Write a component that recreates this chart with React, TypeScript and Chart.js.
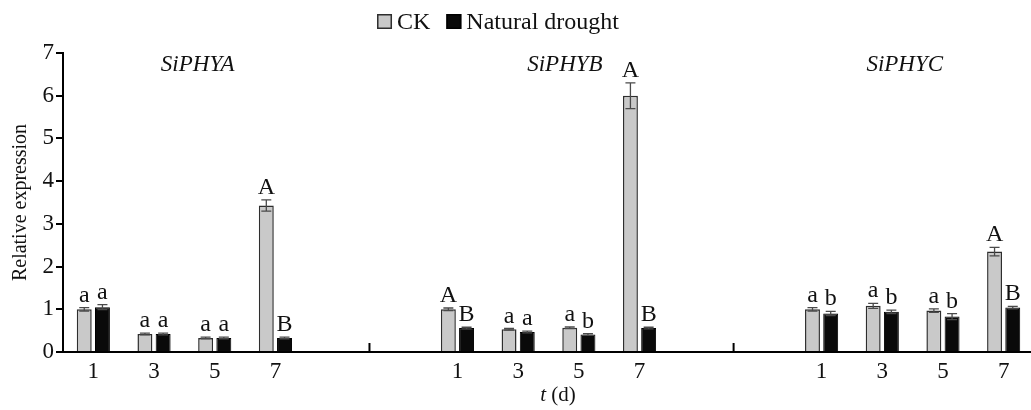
import { useEffect, useRef } from 'react';
import { Chart, registerables } from 'chart.js';
Chart.register(...registerables);

// ---- data ----
const days = ['1', '3', '5', '7'];
const genes = ['SiPHYA', 'SiPHYB', 'SiPHYC'];
const seriesNames = ['CK', 'Natural drought'];

const ckPHYA = [1.0, 0.42, 0.33, 3.43];
const ckPHYB = [1.0, 0.53, 0.57, 6.0];
const ckPHYC = [1.0, 1.08, 0.97, 2.35];
const drPHYA = [1.05, 0.42, 0.33, 0.33];
const drPHYB = [0.56, 0.47, 0.41, 0.56];
const drPHYC = [0.9, 0.94, 0.83, 1.04];

const ckErrA = [0.04, 0.02, 0.02, 0.13];
const ckErrB = [0.03, 0.02, 0.02, 0.3];
const ckErrC = [0.04, 0.06, 0.04, 0.1];
const drErrA = [0.06, 0.02, 0.02, 0.02];
const drErrB = [0.02, 0.02, 0.02, 0.02];
const drErrC = [0.05, 0.04, 0.07, 0.03];

const ckLetA = ['a', 'a', 'a', 'A'];
const ckLetB = ['A', 'a', 'a', 'A'];
const ckLetC = ['a', 'a', 'a', 'A'];
const drLetA = ['a', 'a', 'a', 'B'];
const drLetB = ['B', 'a', 'b', 'B'];
const drLetC = ['b', 'b', 'b', 'B'];

const yTicks = [0, 1, 2, 3, 4, 5, 6, 7];

// ---- build category slots (3 groups of 4, 2 empty slots between) ----
const GAP = 2;
function spread<T>(groups: T[][], empty: T | null): (T | null)[] {
  const out: (T | null)[] = [];
  groups.forEach((g, gi) => {
    g.forEach((v) => out.push(v));
    if (gi < groups.length - 1) for (let k = 0; k < GAP; k++) out.push(empty);
  });
  return out;
}
const labels = spread([days, days, days], '') as string[];
const ckData = spread([ckPHYA, ckPHYB, ckPHYC], null);
const drData = spread([drPHYA, drPHYB, drPHYC], null);
const errs = [spread([ckErrA, ckErrB, ckErrC], null), spread([drErrA, drErrB, drErrC], null)];
const letters = [spread([ckLetA, ckLetB, ckLetC], null), spread([drLetA, drLetB, drLetC], null)];
// gene label positions (fractional slot index) and separator positions
const genePos = [1.72, 7.77, 13.37];
const sepPos = [4.55, 10.55];

const SERIF = '"Liberation Serif", "Times New Roman", serif';
const INK = '#111';

const annotate = {
  id: 'annotate',
  afterDatasetsDraw(chart: any) {
    const { ctx, scales } = chart;
    const xs = scales.x;
    const ys = scales.y;
    const step = xs.getPixelForValue(1) - xs.getPixelForValue(0);
    ctx.save();
    // error bars + letters
    chart.data.datasets.forEach((ds: any, di: number) => {
      const meta = chart.getDatasetMeta(di);
      meta.data.forEach((bar: any, i: number) => {
        const v = ds.data[i];
        if (v == null) return;
        const e = errs[di][i] as number;
        const cx = bar.x;
        const top = ys.getPixelForValue(v + e);
        const bot = ys.getPixelForValue(v - e);
        ctx.strokeStyle = '#4a4a4a';
        ctx.lineWidth = 1.3;
        ctx.beginPath();
        ctx.moveTo(cx, top);
        ctx.lineTo(cx, bot);
        ctx.moveTo(cx - 5, top);
        ctx.lineTo(cx + 5, top);
        ctx.moveTo(cx - 5, bot);
        ctx.lineTo(cx + 5, bot);
        ctx.stroke();
        const L = letters[di][i];
        if (L) {
          ctx.fillStyle = INK;
          ctx.font = `24px ${SERIF}`;
          ctx.textAlign = 'center';
          ctx.textBaseline = 'alphabetic';
          ctx.fillText(L, cx, top - 6);
        }
      });
    });
    // gene names
    ctx.fillStyle = INK;
    ctx.font = `italic 23px ${SERIF}`;
    ctx.textAlign = 'center';
    ctx.textBaseline = 'alphabetic';
    genes.forEach((g, gi) => {
      const px = xs.getPixelForValue(0) + genePos[gi] * step;
      ctx.fillText(g, px, chart.chartArea.top + 18);
    });
    // separator ticks
    ctx.strokeStyle = '#000';
    ctx.lineWidth = 2;
    sepPos.forEach((s) => {
      const px = xs.getPixelForValue(0) + s * step;
      ctx.beginPath();
      ctx.moveTo(px, chart.chartArea.bottom);
      ctx.lineTo(px, chart.chartArea.bottom - 9);
      ctx.stroke();
    });
    ctx.restore();
  },
  afterDraw(chart: any) {
    const { ctx, chartArea } = chart;
    ctx.save();
    // x axis title: italic t + " (d)"
    ctx.fillStyle = INK;
    ctx.textBaseline = 'alphabetic';
    ctx.textAlign = 'left';
    ctx.font = `italic 21px ${SERIF}`;
    const wT = ctx.measureText('t').width;
    ctx.font = `21px ${SERIF}`;
    const wR = ctx.measureText(' (d)').width;
    const cx = 558;
    const x0 = cx - (wT + wR) / 2;
    const by = chartArea.bottom + 49;
    ctx.font = `italic 21px ${SERIF}`;
    ctx.fillText('t', x0, by);
    ctx.font = `21px ${SERIF}`;
    ctx.fillText(' (d)', x0 + wT, by);
    // legend
    ctx.font = `24px ${SERIF}`;
    const box = 15;
    const items = chart.data.datasets.map((ds: any) => ({
      text: ds.label,
      fill: ds.backgroundColor,
      stroke: ds.borderColor,
    }));
    const gapBoxText = 5;
    const gapItems = 16;
    let total = 0;
    items.forEach((it: any, k: number) => {
      total += box + gapBoxText + ctx.measureText(it.text).width + (k < items.length - 1 ? gapItems : 0);
    });
    let lx = 498 - total / 2;
    const ly = 14;
    items.forEach((it: any) => {
      ctx.fillStyle = it.fill;
      ctx.fillRect(lx, ly, box, box);
      ctx.strokeStyle = it.stroke;
      ctx.lineWidth = 1.5;
      ctx.strokeRect(lx + 0.75, ly + 0.75, box - 1.5, box - 1.5);
      lx += box + gapBoxText;
      ctx.fillStyle = INK;
      ctx.fillText(it.text, lx, ly + box);
      lx += ctx.measureText(it.text).width + gapItems;
    });
    ctx.restore();
  },
};

export default function App() {
  const ref = useRef<HTMLCanvasElement | null>(null);
  useEffect(() => {
    if (!ref.current) return;
    const chart = new Chart(ref.current, {
      type: 'bar',
      data: {
        labels,
        datasets: [
          {
            label: seriesNames[0],
            data: ckData as any,
            backgroundColor: '#c9c9c9',
            borderColor: '#2e2e2e',
            borderWidth: 1.5,
            categoryPercentage: 0.6,
            barPercentage: 0.82,
          },
          {
            label: seriesNames[1],
            data: drData as any,
            backgroundColor: '#0a0a0a',
            borderColor: '#000',
            borderWidth: 1,
            categoryPercentage: 0.6,
            barPercentage: 0.82,
          },
        ],
      },
      options: {
        responsive: false,
        animation: false,
        devicePixelRatio: 1,
        layout: { padding: { top: 53, right: 2, left: 0, bottom: 0 } },
        plugins: {
          legend: { display: false },
          tooltip: { enabled: false },
        },
        scales: {
          x: {
            type: 'category',
            grid: { display: true, drawOnChartArea: false, drawTicks: false },
            border: { display: true, color: '#000', width: 2 },
            ticks: {
              autoSkip: false,
              maxRotation: 0,
              padding: 6,
              color: INK,
              font: { family: SERIF, size: 23 },
            },
            afterFit: (s: any) => {
              s.height = 58;
            },
          },
          y: {
            min: 0,
            max: 7,
            afterBuildTicks: (s: any) => {
              s.ticks = yTicks.map((v) => ({ value: v }));
            },
            grid: { drawOnChartArea: false, drawTicks: true, tickLength: 7, color: '#000', lineWidth: 2 },
            border: { display: true, color: '#000', width: 2 },
            ticks: { padding: 2, color: INK, font: { family: SERIF, size: 23 } },
            title: {
              display: true,
              text: 'Relative expression',
              color: INK,
              font: { family: SERIF, size: 20 },
              padding: { top: 9, bottom: 0 },
            },
            afterFit: (s: any) => {
              s.width = 63;
            },
          },
        },
      },
      plugins: [annotate],
    });
    return () => chart.destroy();
  }, []);
  return (
    <div style={{ position: 'absolute', left: 0, top: 0, width: 1031, height: 410, overflow: 'hidden', background: '#fff' }}>
      <canvas ref={ref} width={1036} height={410} style={{ display: 'block' }} />
    </div>
  );
}
